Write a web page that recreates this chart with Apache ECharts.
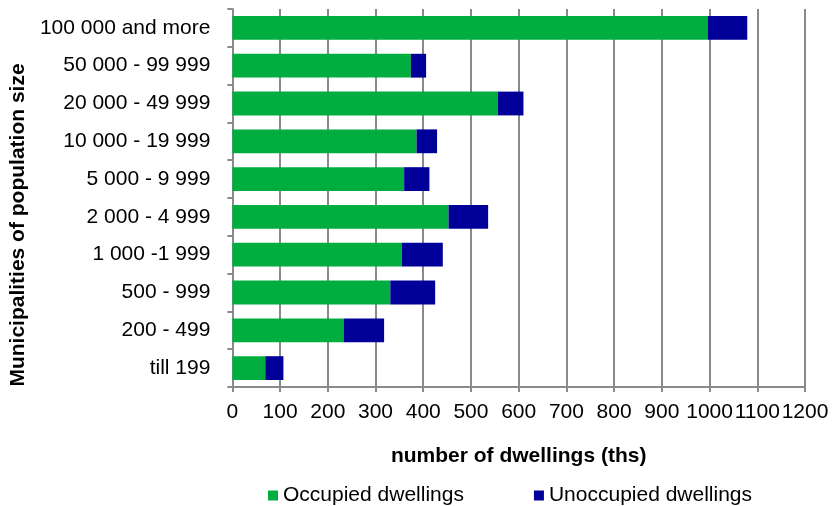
<!DOCTYPE html>
<html>
<head>
<meta charset="utf-8">
<script src="https://cdn.jsdelivr.net/npm/echarts@6/dist/echarts.min.js"></script>
<style>
  html, body { margin: 0; padding: 0; background: #fff; }
  #chart { width: 837px; height: 506px; }
</style>
</head>
<body>
<div id="chart"></div>
<script>
// municipalities by population size, top to bottom
let categories = ['100 000 and more', '50 000 - 99 999', '20 000 - 49 999', '10 000 - 19 999',
    '5 000 - 9 999', '2 000 - 4 999', '1 000 -1 999', '500 - 999', '200 - 499', 'till 199'];
// thousands of dwellings
let occupied = [996, 374, 556, 386, 360, 453, 355, 331, 233, 69];
let unoccupied = [83, 32, 54, 43, 53, 83, 86, 94, 85, 38];

let chart = echarts.init(document.getElementById('chart'));
let font = 'Liberation Sans, Arial, sans-serif';
let grey = '#8a8a8a';

let option = {
    backgroundColor: '#fff',
    animation: false,
    textStyle: { fontFamily: font },
    grid: { left: 227, right: 32, top: 9, bottom: 119, containLabel: false },
    legend: {
        left: 268,
        top: 485,
        padding: 0,
        itemWidth: 10,
        itemHeight: 10,
        itemGap: 70,
        icon: 'rect',
        textStyle: { fontSize: 21, color: '#000', fontFamily: font },
        data: ['Occupied dwellings', 'Unoccupied dwellings']
    },
    xAxis: {
        type: 'value',
        min: 0,
        max: 1200,
        interval: 100,
        name: 'number of dwellings (ths)',
        nameLocation: 'middle',
        nameGap: 59,
        nameTextStyle: { fontSize: 21, fontWeight: 'bold', color: '#000', fontFamily: font },
        axisLine: { show: true, lineStyle: { color: grey, width: 2 } },
        axisTick: { show: true, length: 5, lineStyle: { color: grey, width: 2 } },
        axisLabel: {
            fontSize: 21, color: '#000', margin: 15, fontFamily: font,
            showMaxLabel: true, showMinLabel: true, hideOverlap: false,
            formatter: function (v) { return String(v) }
        },
        splitLine: { show: true, lineStyle: { color: grey, width: 2 } }
    },
    yAxis: {
        type: 'category',
        inverse: true,
        data: categories,
        name: 'Municipalities of population size',
        nameLocation: 'middle',
        nameRotate: 90,
        nameGap: 200,
        nameTextStyle: { fontSize: 21, fontWeight: 'bold', color: '#000', fontFamily: font, padding: [0, 54, 0, 0] },
        axisLine: { show: true, lineStyle: { color: grey, width: 2 } },
        axisTick: { show: true, length: 5, lineStyle: { color: grey, width: 2 } },
        axisLabel: { fontSize: 21, color: '#000', margin: 22, fontFamily: font }
    },
    series: [{
        name: 'Occupied dwellings',
        type: 'bar',
        stack: 'total',
        barCategoryGap: '37%',
        itemStyle: { color: '#00ae40' },
        data: occupied
    }, {
        name: 'Unoccupied dwellings',
        type: 'bar',
        stack: 'total',
        barCategoryGap: '37%',
        itemStyle: { color: '#000099' },
        data: unoccupied
    }]
};
chart.setOption(option);
</script>
</body>
</html>
